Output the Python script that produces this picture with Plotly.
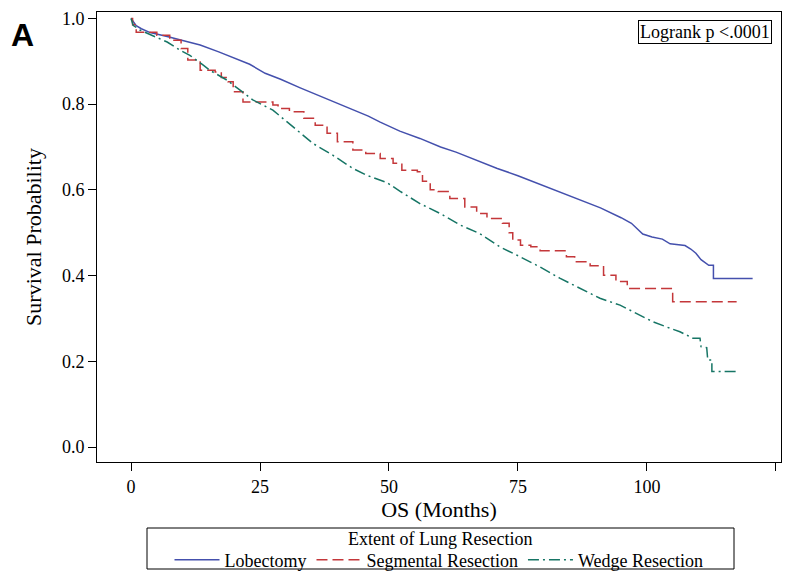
import plotly.graph_objects as go

# Lobectomy (blue, solid)
lob_t = [0, 0.5, 1, 2, 3.7, 7, 10, 13.4, 17, 20, 23, 26, 29, 32.8, 36, 39, 42.4, 46, 48.3, 52.1,
         56, 60, 63, 67.6, 71, 75, 79, 83, 87, 91, 95, 97, 99.2, 101, 103, 104.5, 107.4, 108.5,
         109.5, 110.5, 112, 112.9, 112.9, 120.5]
lob_s = [1.0, 0.99, 0.983, 0.976, 0.967, 0.958, 0.948, 0.938, 0.922, 0.908, 0.893, 0.872, 0.858,
         0.838, 0.822, 0.807, 0.79, 0.772, 0.758, 0.737, 0.72, 0.70, 0.688, 0.666, 0.65, 0.633,
         0.614, 0.596, 0.577, 0.558, 0.535, 0.522, 0.497, 0.49, 0.485, 0.474, 0.47, 0.462, 0.452,
         0.437, 0.424, 0.424, 0.393, 0.393]

# Segmental resection (red, dashed, step)
seg_t = [0, 0.3, 1, 5, 7.5, 9.7, 11, 13.4, 16.3, 17.5, 18.8, 19.8, 21.7, 27.5, 28.5, 30.7, 33.5,
         35.7, 38, 40, 43, 45.5, 48.3, 50.8, 52.5, 55.5, 56.5, 58, 59.5, 61.8, 64.7, 67, 69, 72,
         73.3, 74, 75.5, 77.5, 79.3, 84.4, 86, 89, 91.6, 94, 96.2, 105, 117.4]
seg_s = [1.0, 0.985, 0.968, 0.961, 0.949, 0.93, 0.903, 0.879, 0.875, 0.862, 0.852, 0.829, 0.805,
         0.798, 0.79, 0.782, 0.767, 0.751, 0.732, 0.712, 0.693, 0.685, 0.673, 0.662, 0.646, 0.642,
         0.62, 0.60, 0.596, 0.58, 0.56, 0.545, 0.533, 0.522, 0.50, 0.483, 0.471, 0.467, 0.458,
         0.444, 0.432, 0.423, 0.401, 0.386, 0.37, 0.339, 0.339]

# Wedge resection (green, dash-dot)
wed_t = [0, 0.4, 1.7, 4.6, 7, 9.5, 11.4, 14, 15.3, 18.6, 21.1, 23.6, 27.5, 31.4, 35.3, 39.1, 43,
         45.7, 49.6, 52.1, 56, 59.9, 63.8, 67.6, 71.5, 75.4, 79.3, 83.1, 87, 90.9, 94.8, 98.6,
         101.2, 104.5, 106.4, 108.9, 110.3, 110.5, 111.6, 111.8, 112.6, 112.6, 117.4]
wed_s = [1.0, 0.984, 0.973, 0.957, 0.945, 0.926, 0.914, 0.891, 0.879, 0.856, 0.833, 0.81, 0.786,
         0.747, 0.708, 0.681, 0.65, 0.634, 0.617, 0.597, 0.568, 0.545, 0.518, 0.498, 0.467, 0.444,
         0.42, 0.394, 0.37, 0.347, 0.331, 0.308, 0.292, 0.277, 0.269, 0.254, 0.254, 0.234, 0.232,
         0.203, 0.203, 0.176, 0.176]

x_ticks = [0, 25, 50, 75, 100, 125]
y_ticks = [0.0, 0.2, 0.4, 0.6, 0.8, 1.0]

SERIF = "Liberation Serif"

fig = go.Figure()
fig.add_trace(go.Scatter(x=lob_t, y=lob_s, mode="lines", name="Lobectomy",
                         line=dict(color="#4450ad", width=1.5)))
fig.add_trace(go.Scatter(x=seg_t, y=seg_s, mode="lines", name="Segmental Resection",
                         line=dict(color="#c4373a", width=1.5, dash="11px,5px", shape="hv")))
fig.add_trace(go.Scatter(x=wed_t, y=wed_s, mode="lines", name="Wedge Resection",
                         line=dict(color="#167565", width=1.5, dash="11px,4px,2px,4px")))

fig.update_layout(
    width=786, height=573,
    margin=dict(l=97, r=5, t=12, b=111, autoexpand=False),
    plot_bgcolor="white", paper_bgcolor="white",
    font=dict(family=SERIF, size=18, color="black"),
    showlegend=True,
    legend=dict(
        orientation="h", x=0.5, xanchor="center", xref="paper",
        y=(573 - 560) / 573, yanchor="middle", yref="container",
        borderwidth=0, bgcolor="rgba(0,0,0,0)", font=dict(size=18),
        tracegroupgap=0, valign="middle", itemwidth=45,
    ),
    xaxis=dict(
        range=[-6.6, 126], tickvals=x_ticks, ticks="outside", ticklen=8, tickcolor="black",
        showline=True, linecolor="black", linewidth=1, mirror=True, showgrid=False, zeroline=False,
        title=dict(text="OS (Months)", standoff=4), tickfont=dict(size=18), automargin=False,
    ),
    yaxis=dict(
        range=[-0.035, 1.015], tickvals=y_ticks, tickformat=".1f", ticks="outside", ticklen=8,
        tickcolor="black", showline=True, linecolor="black", linewidth=1, mirror=True,
        showgrid=False, zeroline=False, automargin=False,
        title=dict(text="Survival Probability", standoff=14), tickfont=dict(size=18),
    ),
)

# legend frame and title (legend sits below the plot)
fig.add_shape(type="rect", xref="paper", yref="paper", x0=(147 - 97) / 684, x1=(734 - 97) / 684,
              y0=(462 - 569) / 450, y1=(462 - 528) / 450, line=dict(color="black", width=1))
fig.add_annotation(text="Extent of Lung Resection", xref="paper", yref="paper",
                   x=(440 - 97) / 684, y=(462 - 539) / 450, xanchor="center", yanchor="middle",
                   showarrow=False, font=dict(size=18, family=SERIF))

fig.add_annotation(text="Logrank p &lt;.0001", xref="paper", yref="paper", x=0.987, y=0.982,
                   xanchor="right", yanchor="top", showarrow=False, bordercolor="black",
                   borderwidth=1, borderpad=1, font=dict(size=18, family=SERIF))
fig.add_annotation(text="<b>A</b>", xref="paper", yref="paper", x=-0.128, y=0.993,
                   xanchor="left", yanchor="top", showarrow=False,
                   font=dict(size=32, family="Liberation Sans"))

fig.write_html("out.html", config={"displayModeBar": False},
               post_script="document.body.style.margin='0';")
